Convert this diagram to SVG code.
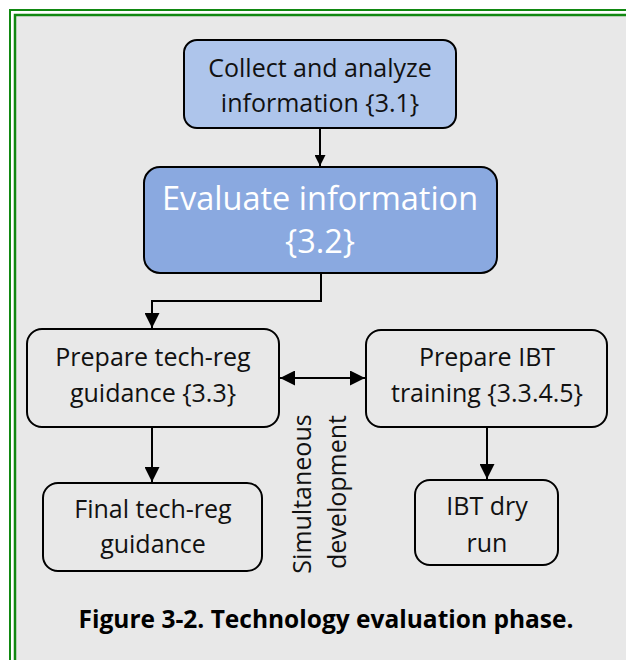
<svg xmlns="http://www.w3.org/2000/svg" width="626" height="660" viewBox="0 0 626 660">
<defs>
<style>
.box{stroke:#000;stroke-width:2;fill:#e8e8e8}
.t{font-family:"Open Sans","Noto Sans",sans-serif;font-size:25px;fill:#111;text-anchor:middle}
.w{fill:#fff;font-size:32.5px}
.c{stroke:#000;stroke-width:2;fill:none}
.cap{font-family:"Open Sans","Noto Sans",sans-serif;font-size:24.5px;font-weight:bold;fill:#000;text-anchor:middle}
</style>
<marker id="ahb" viewBox="0 0 10 10" refX="10" refY="5" markerWidth="15" markerHeight="15" markerUnits="userSpaceOnUse" orient="auto-start-reverse">
<path d="M0,0 L10,5 L0,10 Z" fill="#000"/>
</marker>
<marker id="ahs" viewBox="0 0 10 10" refX="10" refY="5" markerWidth="12" markerHeight="11" markerUnits="userSpaceOnUse" orient="auto">
<path d="M0,0 L10,5 L0,10 Z" fill="#000"/>
</marker>
</defs>
<rect x="0" y="0" width="626" height="660" fill="#fff"/>
<rect x="15" y="15" width="620" height="660" fill="#e8e8e8"/>
<path d="M10,670 V10 H640" fill="none" stroke="#118811" stroke-width="2"/>
<path d="M15,670 V15 H640" fill="none" stroke="#118811" stroke-width="2.5"/>

<g id="connectors">
<line class="c" x1="320" y1="128" x2="320" y2="166" marker-end="url(#ahs)"/>
<polyline class="c" points="321,273 321,301 152,301 152,328" marker-end="url(#ahb)"/>
<line class="c" x1="152" y1="427" x2="152" y2="482" marker-end="url(#ahb)"/>
<line class="c" x1="487" y1="427" x2="487" y2="479" marker-end="url(#ahb)"/>
<line class="c" x1="280" y1="378" x2="365" y2="378" marker-start="url(#ahb)" marker-end="url(#ahb)"/>
</g>

<g id="n1">
<rect class="box" x="184" y="40" width="272" height="88" rx="13" style="fill:#aec5eb"/>
<text class="t" x="320" y="77">Collect and analyze</text>
<text class="t" x="320" y="112">information {3.1}</text>
</g>
<g id="n2">
<rect class="box" x="144" y="167" width="353" height="106" rx="16" style="fill:#8aa9e0"/>
<text class="t w" x="320" y="210">Evaluate information</text>
<text class="t w" x="320" y="253">{3.2}</text>
</g>
<g id="n3">
<rect class="box" x="27" y="329" width="252" height="98" rx="15"/>
<text class="t" x="153" y="366">Prepare tech-reg</text>
<text class="t" x="153" y="402">guidance {3.3}</text>
</g>
<g id="n4">
<rect class="box" x="366" y="330" width="241" height="97" rx="15"/>
<text class="t" x="487" y="366">Prepare IBT</text>
<text class="t" x="487" y="402">training {3.3.4.5}</text>
</g>
<g id="n5">
<rect class="box" x="43" y="483" width="219" height="88" rx="15"/>
<text class="t" x="153" y="518">Final tech-reg</text>
<text class="t" x="153" y="553">guidance</text>
</g>
<g id="n6">
<rect class="box" x="415" y="480" width="143" height="85" rx="15"/>
<text class="t" x="487" y="515">IBT dry</text>
<text class="t" x="487" y="552">run</text>
</g>
<g id="label">
<text class="t" transform="translate(311,494) rotate(-90)">Simultaneous</text>
<text class="t" transform="translate(346,492) rotate(-90)">development</text>
</g>
<text class="cap" x="326" y="628">Figure 3-2. Technology evaluation phase.</text>
</svg>
